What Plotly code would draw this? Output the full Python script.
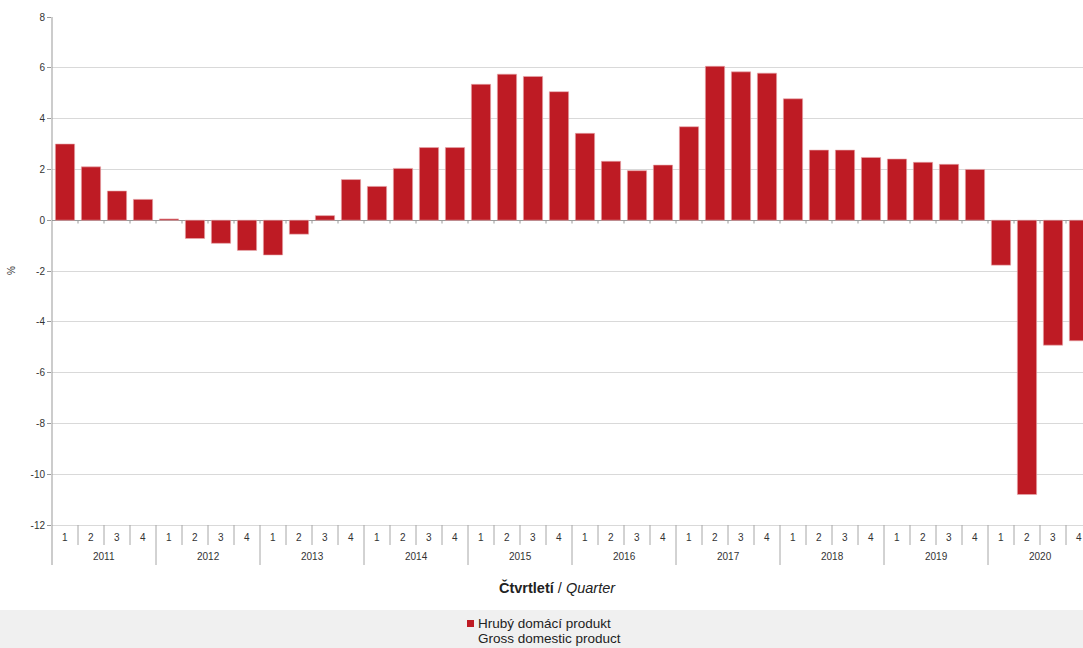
import plotly.graph_objects as go

years = ["2011", "2012", "2013", "2014", "2015", "2016", "2017", "2018", "2019", "2020"]
quarters = ["1", "2", "3", "4"]
gdp = [
    3.0, 2.1, 1.15, 0.82,
    0.05, -0.72, -0.91, -1.19,
    -1.37, -0.55, 0.18, 1.6,
    1.33, 2.04, 2.86, 2.86,
    5.35, 5.75, 5.66, 5.06,
    3.42, 2.32, 1.95, 2.17,
    3.68, 6.06, 5.84, 5.79,
    4.78, 2.76, 2.76, 2.47,
    2.41, 2.28, 2.2, 2.0,
    -1.77, -10.8, -4.92, -4.75,
]
y_ticks = [8, 6, 4, 2, 0, -2, -4, -6, -8, -10, -12]
y_tick_labels = ["8", "6", "4", "2", "0", "-2", "-4", "-6", "-8", "-10", "-12"]
series_name_cz = "Hrubý domácí produkt"
series_name_en = "Gross domestic product"

FONT = "Liberation Sans, Arial, sans-serif"
BAR = "#be1b24"
W, H = 1083, 648
ML, MT, MB = 52, 17, 123
plot_w = W - ML
plot_h = H - MT - MB
cat_px = 26.0  # pixel width of one quarter

def py(p):  # page pixel y -> paper y
    return (H - MB - p) / plot_h

def px(p):  # page pixel x -> paper x
    return (p - ML) / plot_w

n = len(gdp)
xs = list(range(n))
labels_q = [quarters[i % 4] for i in range(n)]

fig = go.Figure()
fig.add_trace(go.Bar(
    x=xs, y=gdp, marker=dict(color=BAR, line=dict(color="#e7a9ac", width=0.6)),
    width=0.74, showlegend=False, hoverinfo="y",
))

shapes = []
annotations = []

# small tick marks on zero line at category boundaries
for i in range(n - 1):
    shapes.append(dict(type="line", xref="x", yref="y", x0=i + 0.5, x1=i + 0.5,
                       y0=0, y1=-0.13, line=dict(color="#999999", width=1)))

# category dividers and labels below the plot
for i in range(n):
    annotations.append(dict(x=i, y=py(537), xref="x", yref="paper", text=labels_q[i],
                            showarrow=False, font=dict(size=10, color="#333333", family=FONT),
                            xanchor="center", yanchor="middle"))
    if i > 0:
        bottom = py(565) if i % 4 == 0 else py(545)
        shapes.append(dict(type="line", xref="x", yref="paper", x0=i - 0.5, x1=i - 0.5,
                           y0=0, y1=bottom, line=dict(color="#a6a6a6", width=1)))
for k, yr in enumerate(years):
    annotations.append(dict(x=4 * k + 1.5, y=py(556), xref="x", yref="paper", text=yr,
                            showarrow=False, font=dict(size=10, color="#333333", family=FONT),
                            xanchor="center", yanchor="middle"))

# left axis line extended through category rows
shapes.append(dict(type="line", xref="paper", yref="paper", x0=0, x1=0, y0=py(565), y1=1,
                   line=dict(color="#999999", width=1)))

# legend background
shapes.append(dict(type="rect", xref="paper", yref="paper", x0=px(0), x1=1,
                   y0=py(648), y1=py(610), fillcolor="#f0f0f0", line=dict(width=0), layer="below"))
# legend swatch
shapes.append(dict(type="rect", xref="paper", yref="paper", x0=px(467), x1=px(474),
                   y0=py(627), y1=py(620), fillcolor=BAR, line=dict(width=0)))
for txt, yy in ((series_name_cz, 623.5), (series_name_en, 638.5)):
    annotations.append(dict(x=px(476), y=py(yy), xref="paper", yref="paper",
                            text=txt, showarrow=False,
                            align="left", xanchor="left", yanchor="middle",
                            font=dict(size=13.5, color="#222222", family=FONT)))

# axis titles
annotations.append(dict(x=px(557), y=py(587), xref="paper", yref="paper",
                        text="<b>Čtvrtletí</b> / <i>Quarter</i>", showarrow=False,
                        xanchor="center", yanchor="middle",
                        font=dict(size=14.5, color="#222222", family=FONT)))
annotations.append(dict(x=px(11), y=py(271), xref="paper", yref="paper", text="%",
                        showarrow=False, textangle=-90, xanchor="center", yanchor="middle",
                        font=dict(size=10, color="#333333", family=FONT)))

fig.update_layout(
    width=W, height=H,
    margin=dict(l=ML, r=0, t=MT, b=MB, pad=0),
    paper_bgcolor="white", plot_bgcolor="white",
    font=dict(family=FONT, size=10, color="#333333"),
    bargap=0.26,
    xaxis=dict(range=[-0.5, -0.5 + plot_w / cat_px], showticklabels=False, showgrid=False,
               zeroline=False, showline=True, linecolor="#d9d9d9", linewidth=1, ticks="",
               fixedrange=True),
    yaxis=dict(range=[-12, 8], tickvals=y_ticks, ticktext=y_tick_labels, showgrid=True,
               gridcolor="#d9d9d9", gridwidth=1, zeroline=True, zerolinecolor="#999999",
               zerolinewidth=1, showline=False, ticks="outside", ticklen=4,
               tickcolor="#999999", tickfont=dict(size=10, color="#333333", family=FONT),
               fixedrange=True),
    shapes=shapes, annotations=annotations,
)

fig.write_html("out.html")
